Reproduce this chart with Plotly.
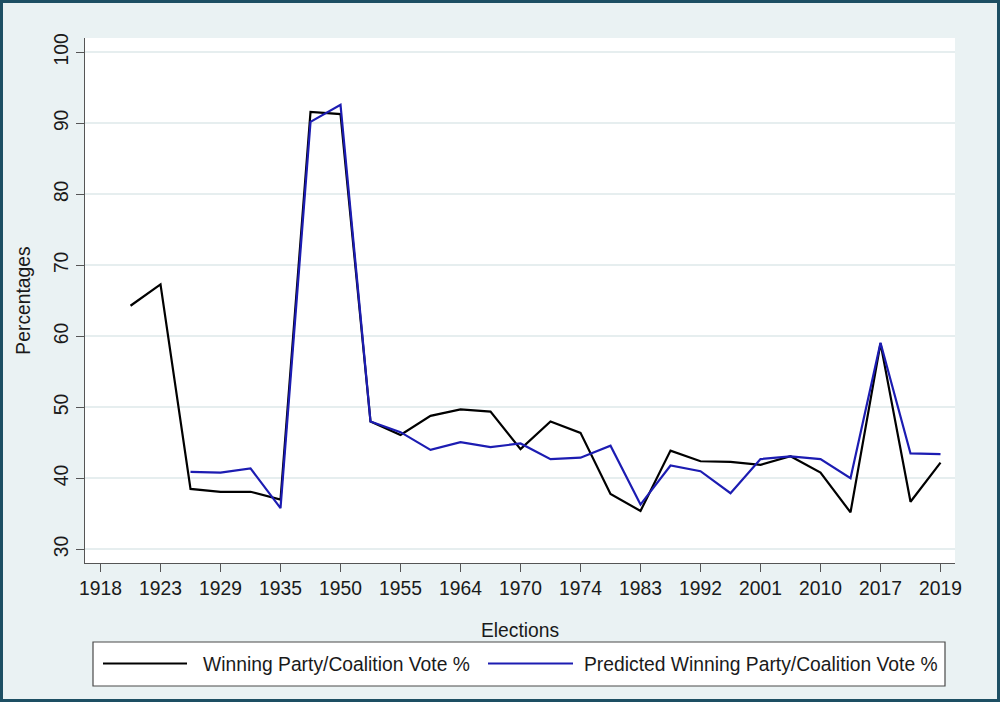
import plotly.graph_objects as go

# ---- data ----
tick_labels = ["1918", "1923", "1929", "1935", "1950", "1955", "1964", "1970",
               "1974", "1983", "1992", "2001", "2010", "2017", "2019"]
# election sequence number (0 = 1918 label position)
election_seq = list(range(1, 29))
winning_vote = [64.3, 67.3, 38.5, 38.1, 38.1, 37.0, 91.6, 91.3, 48.0, 46.1,
                48.8, 49.7, 49.4, 44.1, 48.0, 46.4, 37.8, 35.4, 43.9, 42.4,
                42.3, 41.9, 43.1, 40.8, 35.2, 59.0, 36.7, 42.2]
predicted_seq = list(range(3, 29))
predicted_vote = [40.9, 40.8, 41.4, 35.8, 90.2, 92.6, 48.0, 46.5, 44.0, 45.1,
                  44.4, 44.9, 42.7, 42.9, 44.6, 36.3, 41.8, 41.0, 37.9, 42.7,
                  43.1, 42.7, 40.0, 59.1, 43.5, 43.4]
series_names = ["Winning Party/Coalition Vote %",
                "Predicted Winning Party/Coalition Vote %"]
y_ticks = [30, 40, 50, 60, 70, 80, 90, 100]

# ---- layout geometry (pixels) ----
W, H = 1000, 702
L, R, T, B = 85, 45, 38, 139
PW, PH = W - L - R, H - T - B

def px(x):
    return (x - L) / PW

def py(y):
    return (H - B - y) / PH

BLACK = "#000000"
BLUE = "#1c1cb2"
BG = "#eaf2f3"
FONT = "Liberation Sans, Arial, sans-serif"
FS = 19.3

fig = go.Figure()
fig.add_trace(go.Scatter(x=election_seq, y=winning_vote, mode="lines",
                         name=series_names[0],
                         line=dict(color=BLACK, width=2.2), showlegend=False))
fig.add_trace(go.Scatter(x=predicted_seq, y=predicted_vote, mode="lines",
                         name=series_names[1],
                         line=dict(color=BLUE, width=2.2), showlegend=False))

fig.update_layout(
    width=W, height=H,
    margin=dict(l=L, r=R, t=T, b=B, pad=0),
    paper_bgcolor=BG, plot_bgcolor="white",
    font=dict(family=FONT, size=FS, color="#1a1a1a"),
    xaxis=dict(
        range=[-0.517, 28.483], tickmode="array",
        tickvals=list(range(0, 2 * len(tick_labels), 2)), ticktext=tick_labels,
        ticks="outside", ticklen=8, tickwidth=1.2, tickcolor="#555555",
        showline=True, linecolor="#555555", linewidth=1.2,
        showgrid=False, zeroline=False,
        tickfont=dict(size=FS),
        title=dict(text="Elections", font=dict(size=FS), standoff=25),
    ),
    yaxis=dict(
        range=[28.07, 102.01], tickmode="array", tickvals=y_ticks,
        ticks="outside", ticklen=8, tickwidth=1.2, tickcolor="#555555",
        tickangle=-90,
        showline=True, linecolor="#555555", linewidth=1.2,
        showgrid=True, gridcolor="#e6eeef", gridwidth=1.5, zeroline=False,
        tickfont=dict(size=FS),
        title=dict(text="Percentages", font=dict(size=FS), standoff=15),
    ),
)

shapes = []
# outer frame
shapes.append(dict(type="rect", xref="paper", yref="paper",
                   x0=px(1.5), x1=px(W - 1.5), y0=py(H - 1.5), y1=py(1.5),
                   line=dict(color="#1d4f63", width=3), fillcolor="rgba(0,0,0,0)",
                   layer="above"))
# legend box
shapes.append(dict(type="rect", xref="paper", yref="paper",
                   x0=px(93), x1=px(945), y0=py(686), y1=py(642),
                   line=dict(color="#4a4a4a", width=1.2), fillcolor="white"))
# legend swatches
shapes.append(dict(type="line", xref="paper", yref="paper",
                   x0=px(103), x1=px(187), y0=py(663.5), y1=py(663.5),
                   line=dict(color=BLACK, width=2)))
shapes.append(dict(type="line", xref="paper", yref="paper",
                   x0=px(488), x1=px(573), y0=py(663.5), y1=py(663.5),
                   line=dict(color=BLUE, width=2)))
fig.update_layout(shapes=shapes)

fig.add_annotation(x=px(201), y=py(664.5), xref="paper", yref="paper",
                   text=series_names[0], showarrow=False,
                   xanchor="left", yanchor="middle", font=dict(size=FS))
fig.add_annotation(x=px(582), y=py(664.5), xref="paper", yref="paper",
                   text=series_names[1], showarrow=False,
                   xanchor="left", yanchor="middle", font=dict(size=FS))

fig.write_html("out.html", config={"displayModeBar": False},
               post_script="document.body.style.margin='0';document.body.style.overflow='hidden';")
